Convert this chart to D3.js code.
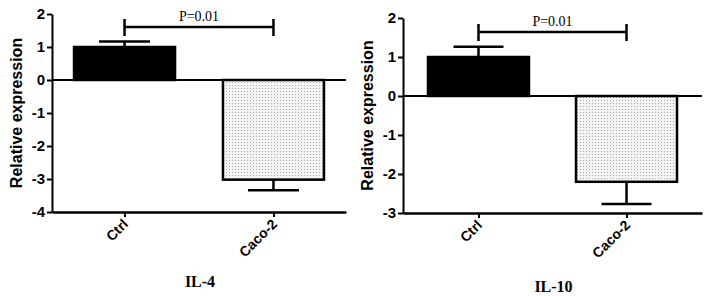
<!DOCTYPE html>
<html>
<head>
<meta charset="utf-8">
<script src="https://cdn.jsdelivr.net/npm/d3@7"></script>
<style>
  body { margin: 0; background: #fff; }
  .tick text { font-family: "Liberation Sans", Arial, sans-serif; font-weight: bold; }
</style>
</head>
<body>
<div id="chart-area"></div>
<script>
// groups and values
var categories = ["Ctrl", "Caco-2"];
var il4Means = [1.0, -3.02];
var il4Errors = [0.17, 0.32];
var il10Means = [1.0, -2.2];
var il10Errors = [0.26, 0.57];
var il4Ticks = [2, 1, 0, -1, -2, -3, -4];
var il10Ticks = [2, 1, 0, -1, -2, -3];
var pText = "P=0.01";
var titles = ["IL-4", "IL-10"];

var svg = d3.select("#chart-area")
    .append("svg")
        .attr("width", 708)
        .attr("height", 296);

// dotted fill for the second bar
var pat = svg.append("defs").append("pattern")
    .attr("id", "dots")
    .attr("width", 3)
    .attr("height", 3)
    .attr("patternUnits", "userSpaceOnUse");
pat.append("rect").attr("width", 3).attr("height", 3).attr("fill", "#f4f4f4");
pat.append("rect").attr("x", 1).attr("y", 1).attr("width", 1).attr("height", 1).attr("fill", "#a8a8a8");

function drawPanel(p) {
    var g = svg.append("g");

    var y = d3.scaleLinear()
        .domain([p.ticks[p.ticks.length - 1], p.ticks[0]])
        .range([p.bottom, p.top]);

    var x = d3.scalePoint()
        .domain(categories)
        .range([p.left, p.right])
        .padding(p.pad);

    // bars
    g.selectAll("rect.bar")
        .data(p.means)
        .enter()
        .append("rect")
            .attr("class", "bar")
            .attr("x", (d, i) => x(categories[i]) - p.barW / 2)
            .attr("width", p.barW)
            .attr("y", d => y(Math.max(d, 0)))
            .attr("height", d => Math.abs(y(d) - y(0)))
            .attr("fill", (d, i) => i == 0 ? "#000" : "url(#dots)")
            .attr("stroke", "#000")
            .attr("stroke-width", 2.5);

    // error bars
    p.means.forEach(function(m, i) {
        var cx = x(categories[i]);
        var end = m >= 0 ? m + p.errors[i] : m - p.errors[i];
        g.append("line")
            .attr("x1", cx).attr("x2", cx)
            .attr("y1", y(m)).attr("y2", y(end))
            .attr("stroke", "#000").attr("stroke-width", 2.5);
        g.append("line")
            .attr("x1", cx - p.capW / 2).attr("x2", cx + p.capW / 2)
            .attr("y1", y(end)).attr("y2", y(end))
            .attr("stroke", "#000").attr("stroke-width", 2.5);
    });

    // zero line
    g.append("line")
        .attr("x1", p.left).attr("x2", p.right)
        .attr("y1", y(0)).attr("y2", y(0))
        .attr("stroke", "#000").attr("stroke-width", 2);

    // y axis
    var yAxis = g.append("g")
        .attr("transform", "translate(" + p.left + ",0)")
        .call(d3.axisLeft(y).tickValues(p.ticks).tickFormat(d => String(d))
            .tickSize(5).tickSizeOuter(0).tickPadding(2));
    yAxis.select(".domain").attr("stroke-width", 2);
    yAxis.selectAll(".tick line").attr("stroke-width", 2);
    yAxis.selectAll(".tick text").attr("font-size", "15px").attr("fill", "#000");

    // x axis
    var xAxis = g.append("g")
        .attr("transform", "translate(0," + p.bottom + ")")
        .call(d3.axisBottom(x).tickSize(5).tickSizeOuter(0).tickPadding(4));
    xAxis.select(".domain").attr("stroke-width", 2.5);
    xAxis.selectAll(".tick line").attr("stroke-width", 2);
    xAxis.selectAll(".tick text")
        .attr("font-size", "14px")
        .attr("fill", "#000")
        .attr("text-anchor", "end")
        .attr("y", 0)
        .attr("dy", 0)
        .attr("transform", "translate(4,13) rotate(-45)");

    // Y label
    g.append("text")
        .attr("transform", "rotate(-90)")
        .attr("x", -(y(p.labelAt)))
        .attr("y", p.left - 30)
        .attr("text-anchor", "middle")
        .attr("font-family", "Liberation Sans, Arial, sans-serif")
        .attr("font-weight", "bold")
        .attr("font-size", "16px")
        .text("Relative expression");

    // significance bracket
    var x1 = x(categories[0]), x2 = x(categories[1]);
    g.append("path")
        .attr("d", "M" + x1 + "," + (p.brY - 8) + "V" + (p.brY + 9) +
            "M" + x1 + "," + p.brY + "H" + x2 +
            "M" + x2 + "," + (p.brY - 8) + "V" + (p.brY + 9))
        .attr("fill", "none")
        .attr("stroke", "#000")
        .attr("stroke-width", 2.5);
    g.append("text")
        .attr("x", (x1 + x2) / 2)
        .attr("y", p.brY - 6)
        .attr("text-anchor", "middle")
        .attr("font-family", "Liberation Serif, Times New Roman, serif")
        .attr("font-size", "14px")
        .text(pText);

    // panel title
    g.append("text")
        .attr("x", (p.left + p.right) / 2 + 1)
        .attr("y", p.titleY)
        .attr("text-anchor", "middle")
        .attr("font-family", "Liberation Serif, Times New Roman, serif")
        .attr("font-weight", "bold")
        .attr("font-size", "16px")
        .text(p.title);
}

drawPanel({
    means: il4Means, errors: il4Errors, ticks: il4Ticks, title: titles[0],
    left: 52, right: 346, top: 14, bottom: 212, pad: 0.487,
    barW: 101, capW: 51, brY: 27, titleY: 287, labelAt: -1
});

drawPanel({
    means: il10Means, errors: il10Errors, ticks: il10Ticks, title: titles[1],
    left: 403, right: 702, top: 18, bottom: 213, pad: 0.51,
    barW: 101, capW: 50, brY: 32, titleY: 292, labelAt: -0.5
});
</script>
</body>
</html>
